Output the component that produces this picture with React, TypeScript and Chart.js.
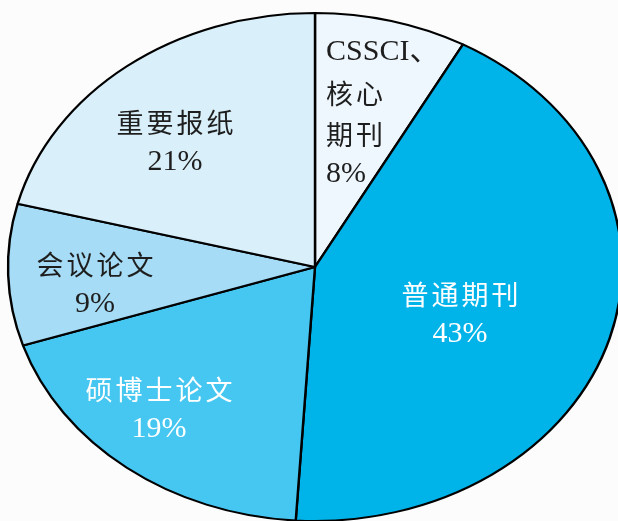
import React, { useEffect, useRef } from "react";
import { Chart, registerables } from "chart.js";

Chart.register(...registerables);

// ---- data ----
const categories = ["CSSCI、核心期刊", "普通期刊", "硕博士论文", "会议论文", "重要报纸"];
const values = [8, 43, 19, 9, 21];
const labelLines: string[][] = [["CSSCI、", "核心", "期刊"], ["普通期刊"], ["硕博士论文"], ["会议论文"], ["重要报纸"]];

// ---- styling ----
const sliceColors = ["#EEF7FD", "#00B4EA", "#45C7F1", "#A6DCF5", "#D9EFFA"];
const textColors = ["#1E1E1E", "#FFFFFF", "#FFFFFF", "#1E1E1E", "#1E1E1E"];
const labelAngleAdj = [-11, 5.2, 4.5, -3.5, -5]; // degrees relative to slice middle
const labelRadius = [0.607, 0.507, 0.755, 0.72, 0.671];
const labelAlign: CanvasTextAlign[] = ["left", "center", "center", "center", "center"];

const W = 618;
const H = 521;
const RY = 254;
const RX = 307;
const SX = RX / RY;
const LINE_H = 40.5;
const LATIN_FONT = '30px "Liberation Serif", "Noto Sans CJK SC", serif';
const CJK_FONT = '27px "Noto Sans CJK SC", sans-serif';
const CJK_SPACING = 3;

const ellipsePlugin = {
  id: "ellipse",
  beforeDatasetsDraw(chart: any) {
    const arc = chart.getDatasetMeta(0).data[0];
    if (!arc) return;
    const ctx = chart.ctx;
    ctx.save();
    ctx.translate(arc.x, arc.y);
    ctx.scale(SX, 1);
    ctx.translate(-arc.x, -arc.y);
  },
  afterDatasetsDraw(chart: any) {
    chart.ctx.restore();
  },
};

const isCjkLine = (s: string) => !/[A-Za-z0-9%]/.test(s);

const labelPlugin = {
  id: "sliceLabels",
  afterDraw(chart: any) {
    const ctx = chart.ctx;
    const meta = chart.getDatasetMeta(0);
    meta.data.forEach((arc: any, i: number) => {
      const p = arc.getProps(["x", "y", "startAngle", "endAngle", "outerRadius"], true);
      const a = (p.startAngle + p.endAngle) / 2 + (labelAngleAdj[i] * Math.PI) / 180;
      const r = p.outerRadius * labelRadius[i];
      const px = p.x + Math.cos(a) * r * SX;
      const py = p.y + Math.sin(a) * r;
      const lines = [...labelLines[i], `${values[i]}%`];
      const top = py - ((lines.length - 1) * LINE_H) / 2;
      ctx.save();
      ctx.fillStyle = textColors[i];
      ctx.textBaseline = "middle";
      ctx.textAlign = "left";
      lines.forEach((ln, k) => {
        const y = top + k * LINE_H;
        if (isCjkLine(ln)) {
          ctx.font = CJK_FONT;
          const chars = Array.from(ln);
          const widths = chars.map((c) => ctx.measureText(c).width);
          const total = widths.reduce((s, w) => s + w, 0) + CJK_SPACING * (chars.length - 1);
          let x = labelAlign[i] === "center" ? px - total / 2 : px;
          chars.forEach((c, j) => {
            ctx.fillText(c, x, y + 1);
            x += widths[j] + CJK_SPACING;
          });
        } else {
          ctx.font = LATIN_FONT;
          const w = ctx.measureText(ln).width;
          const x = labelAlign[i] === "center" ? px - w / 2 : px;
          ctx.fillText(ln, x, y);
        }
      });
      ctx.restore();
    });
  },
};

export default function App() {
  const ref = useRef<HTMLCanvasElement>(null);
  useEffect(() => {
    document.body.style.margin = "0";
    document.body.style.overflow = "hidden";
    document.body.style.background = "#FCFCFC";
    const chart = new Chart(ref.current!, {
      type: "pie",
      data: {
        labels: categories,
        datasets: [
          {
            data: values,
            backgroundColor: sliceColors,
            borderColor: "#000000",
            borderWidth: 2,
            radius: RY,
            clip: false as any,
          },
        ],
      },
      options: {
        responsive: false,
        animation: false,
        layout: { padding: { left: 12, top: 13, right: 0, bottom: 0 } },
        plugins: {
          legend: { display: false },
          tooltip: { enabled: false },
        },
      },
      plugins: [ellipsePlugin, labelPlugin],
    });
    let alive = true;
    const fonts = (document as any).fonts;
    if (fonts && fonts.load) {
      Promise.all([fonts.load(LATIN_FONT, "21%"), fonts.load(CJK_FONT, "重要报纸")]).then(() => {
        if (alive) chart.update();
      });
    }
    return () => {
      alive = false;
      chart.destroy();
    };
  }, []);
  return (
    <div style={{ width: W, height: H, background: "#FCFCFC" }}>
      <canvas ref={ref} width={W} height={H} style={{ display: "block" }} />
    </div>
  );
}
